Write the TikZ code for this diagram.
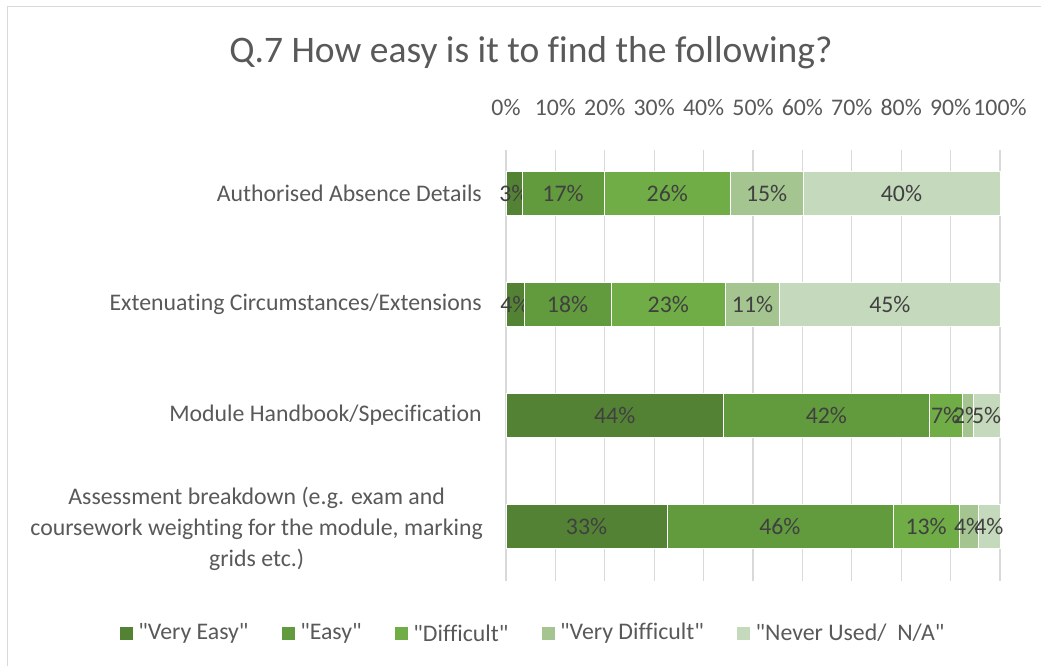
\documentclass[tikz,border=0pt]{standalone}
\usepackage{fontspec}
\setmainfont{Carlito}[Ligatures={TeXOff,NoCommon}]
\usetikzlibrary{positioning}

\definecolor{veryeasy}{HTML}{548235}
\definecolor{easy}{HTML}{629B3E}
\definecolor{difficult}{HTML}{70AD47}
\definecolor{verydiff}{HTML}{A5C590}
\definecolor{neverused}{HTML}{C5D9BC}
\definecolor{axistext}{HTML}{595959}
\definecolor{labeltext}{HTML}{404040}
\definecolor{gridgray}{HTML}{D9D9D9}

\def\xzero{506}    % x of the 0% line
\def\xscale{4.94}  % length of one percent
\def\barh{22}      % half the bar height

\tikzset{
  legsq/.style={minimum size=13pt, inner sep=0pt},
  gridline/.style={gridgray, line width=1.3pt},
}

\begin{document}
\begin{tikzpicture}[x=1pt, y=-1pt,
    nodes={font=\fontsize{23.8}{31}\selectfont, text=axistext, inner sep=0pt}]
\useasboundingbox (0,0) rectangle (1041,666);
\fill[white] (0,0) rectangle (1041,666);
% frame of the chart, its right and bottom sides are cut off
\draw[gridline] (7.5,690) |- (1060,6.5);
\node (title) at (531,53) {\fontsize{37.5}{44}\selectfont Q.7 How easy is it to find the following?};
% grid and tick labels
\foreach \t in {0,10,...,100} {
  \draw[gridline] (\xzero+\t*\xscale,150) -- (\xzero+\t*\xscale,581);
  \node (tick\t) at (\xzero+\t*\xscale,107) {\t\%};
}
% category labels
\node[anchor=east] (cat1) at (482,193) {Authorised Absence Details};
\node[anchor=east] (cat2) at (482,304) {Extenuating Circumstances/Extensions};
\node[anchor=east] (cat3) at (482,415) {Module Handbook/Specification};
\node[anchor=east, align=center] (cat4) at (483,529)
  {Assessment breakdown (e.g. exam and\\coursework weighting for the module, marking\\grids etc.)};
% stacked bars
\foreach \row/\ypos/\segs in {
    1/193/{0/3.2/3/veryeasy, 3.2/19.9/17/easy, 19.9/45.4/26/difficult, 45.4/60.1/15/verydiff, 60.1/100/40/neverused},
    2/304/{0/3.6/4/veryeasy, 3.6/21.3/18/easy, 21.3/44.4/23/difficult, 44.4/55.4/11/verydiff, 55.4/100/45/neverused},
    3/415/{0/44.0/44/veryeasy, 44.0/85.7/42/easy, 85.7/92.3/7/difficult, 92.3/94.6/2/verydiff, 94.6/100/5/neverused},
    4/526/{0/32.6/33/veryeasy, 32.6/78.3/46/easy, 78.3/91.8/13/difficult, 91.8/95.5/4/verydiff, 95.5/100/4/neverused}%
  } {
  \foreach \from/\to/\pct/\col [count=\k] in \segs {
    \filldraw[fill=\col, draw=white, line width=0.5pt]
      (\xzero+\from*\xscale,\ypos-\barh) rectangle (\xzero+\to*\xscale,\ypos+\barh);
    \node[text=labeltext] (bar\row seg\k) at (\xzero+0.5*\from*\xscale+0.5*\to*\xscale,\ypos) {\pct\%};
  }
}
% legend
\node[legsq, fill=veryeasy] (leg1) at (126.5,633) {};
\node[right=5pt of leg1] (legtxt1) {"Very Easy"};
\node[legsq, fill=easy, right=33pt of legtxt1] (leg2) {};
\node[right=5pt of leg2] (legtxt2) {"Easy"};
\node[legsq, fill=difficult, right=33pt of legtxt2] (leg3) {};
\node[right=5pt of leg3] (legtxt3) {"Difficult"};
\node[legsq, fill=verydiff, right=33pt of legtxt3] (leg4) {};
\node[right=5pt of leg4] (legtxt4) {"Very Difficult"};
\node[legsq, fill=neverused, right=33pt of legtxt4] (leg5) {};
\node[right=5pt of leg5] (legtxt5) {"Never Used/\ \ N/A"};
\end{tikzpicture}
\end{document}
